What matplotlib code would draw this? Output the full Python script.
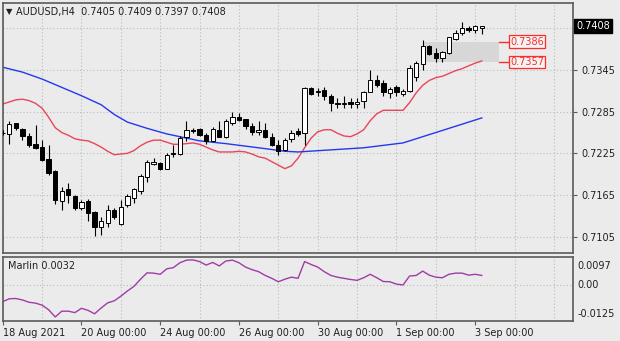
import matplotlib
matplotlib.use("Agg")
import matplotlib.pyplot as plt
import matplotlib.transforms as mtransforms
import numpy as np

# ---- data -------------------------------------------------------------
symbol = "AUDUSD,H4"
ohlc_header = "0.7405 0.7409 0.7397 0.7408"

# H4 candles, bar 0 = 18 Aug 2021 00:00
opens = [0.7255, 0.7253, 0.7268, 0.7260, 0.7250, 0.7238, 0.7234, 0.7217, 0.7199, 0.7157,
         0.7173, 0.7164, 0.7147, 0.7157, 0.7141, 0.7119, 0.7125, 0.7143, 0.7123, 0.7151,
         0.7160, 0.7171, 0.7191, 0.7210, 0.7211, 0.7203, 0.7225, 0.7224, 0.7248, 0.7258,
         0.7260, 0.7251, 0.7243, 0.7259, 0.7248, 0.7268, 0.7278, 0.7274, 0.7264, 0.7256,
         0.7259, 0.7248, 0.7237, 0.7230, 0.7246, 0.7257, 0.7254, 0.7319, 0.7313, 0.7316,
         0.7307, 0.7298, 0.7296, 0.7299, 0.7296, 0.7301, 0.7314, 0.7331, 0.7326, 0.7312,
         0.7320, 0.7310, 0.7315, 0.7335, 0.7353, 0.7379, 0.7369, 0.7362, 0.7369, 0.7390,
         0.7398, 0.7406, 0.7403, 0.7405]
highs = [0.7259, 0.7271, 0.7269, 0.7261, 0.7254, 0.7266, 0.7244, 0.7237, 0.7201, 0.7176,
         0.7183, 0.7165, 0.7158, 0.7159, 0.7142, 0.7134, 0.7151, 0.7146, 0.7158, 0.7166,
         0.7175, 0.7195, 0.7215, 0.7219, 0.7213, 0.7225, 0.7237, 0.7250, 0.7272, 0.7261,
         0.7262, 0.7255, 0.7263, 0.7271, 0.7274, 0.7284, 0.7283, 0.7275, 0.7269, 0.7271,
         0.7268, 0.7254, 0.7244, 0.7247, 0.7259, 0.7262, 0.7320, 0.7320, 0.7319, 0.7321,
         0.7310, 0.7304, 0.7307, 0.7304, 0.7305, 0.7315, 0.7345, 0.7338, 0.7331, 0.7321,
         0.7324, 0.7318, 0.7352, 0.7358, 0.7388, 0.7381, 0.7376, 0.7372, 0.7393, 0.7403,
         0.7414, 0.7409, 0.7410, 0.7409]
lows = [0.7251, 0.7239, 0.7259, 0.7244, 0.7234, 0.7231, 0.7214, 0.7194, 0.7152, 0.7144,
        0.7153, 0.7144, 0.7143, 0.7127, 0.7106, 0.7107, 0.7119, 0.7131, 0.7122, 0.7148,
        0.7153, 0.7167, 0.7184, 0.7208, 0.7201, 0.7202, 0.7220, 0.7223, 0.7243, 0.7254,
        0.7250, 0.7239, 0.7242, 0.7248, 0.7247, 0.7266, 0.7272, 0.7260, 0.7251, 0.7252,
        0.7247, 0.7235, 0.7223, 0.7228, 0.7242, 0.7250, 0.7237, 0.7309, 0.7308, 0.7302,
        0.7286, 0.7290, 0.7290, 0.7291, 0.7290, 0.7290, 0.7313, 0.7321, 0.7307, 0.7304,
        0.7307, 0.7308, 0.7314, 0.7329, 0.7345, 0.7367, 0.7357, 0.7357, 0.7368, 0.7388,
        0.7395, 0.7400, 0.7398, 0.7397]
closes = [0.7254, 0.7267, 0.7261, 0.7250, 0.7237, 0.7233, 0.7215, 0.7196, 0.7158, 0.7171,
          0.7165, 0.7147, 0.7155, 0.7139, 0.7119, 0.7127, 0.7143, 0.7134, 0.7148, 0.7163,
          0.7173, 0.7192, 0.7212, 0.7212, 0.7202, 0.7223, 0.7224, 0.7247, 0.7258, 0.7257,
          0.7252, 0.7243, 0.7260, 0.7249, 0.7271, 0.7278, 0.7273, 0.7264, 0.7256, 0.7258,
          0.7249, 0.7237, 0.7229, 0.7244, 0.7255, 0.7253, 0.7319, 0.7311, 0.7315, 0.7307,
          0.7297, 0.7296, 0.7297, 0.7296, 0.7299, 0.7313, 0.7331, 0.7323, 0.7314, 0.7318,
          0.7313, 0.7315, 0.7348, 0.7355, 0.7379, 0.7368, 0.7363, 0.7371, 0.7392, 0.7399,
          0.7405, 0.7402, 0.7408, 0.7408]

# fast moving average (red), one value per bar
red_ma = [0.7296, 0.7299, 0.7302, 0.7303, 0.7301, 0.7297, 0.7290, 0.7277, 0.7262, 0.7255,
          0.7251, 0.7246, 0.7244, 0.7243, 0.7239, 0.7234, 0.7228, 0.7223, 0.7224, 0.7225,
          0.7229, 0.7236, 0.7241, 0.7244, 0.7244, 0.7241, 0.7238, 0.7238, 0.7239, 0.7240,
          0.7238, 0.7234, 0.7230, 0.7227, 0.7227, 0.7227, 0.7228, 0.7227, 0.7224, 0.7220,
          0.7218, 0.7213, 0.7208, 0.7203, 0.7207, 0.7218, 0.7233, 0.7247, 0.7256, 0.7259,
          0.7259, 0.7254, 0.7250, 0.7249, 0.7253, 0.7259, 0.7272, 0.7282, 0.7287, 0.7287,
          0.7287, 0.7287, 0.7298, 0.7312, 0.7323, 0.7330, 0.7334, 0.7336, 0.7340, 0.7344,
          0.7347, 0.7351, 0.7355, 0.7358]
# slow moving average (blue), sampled bars
blue_ma_bars = [0, 3, 6, 9, 12, 15, 17, 19, 22, 25, 28, 30, 34, 39, 43, 45, 50, 55, 61, 66, 69, 73]
blue_ma = [0.7349, 0.7342, 0.7332, 0.7320, 0.7308, 0.7295, 0.7281, 0.7270, 0.7261, 0.7253,
           0.7247, 0.7243, 0.7239, 0.7233, 0.7228, 0.7227, 0.7230, 0.7233, 0.7240, 0.7255,
           0.7264, 0.7276]

# Marlin oscillator, one value per bar
marlin = [-0.0059, -0.0049, -0.0048, -0.0053, -0.0061, -0.0064, -0.0071, -0.0087, -0.0112, -0.0092,
          -0.0092, -0.0097, -0.0082, -0.0089, -0.0101, -0.0081, -0.0063, -0.0056, -0.0040, -0.0022,
          -0.0006, 0.0019, 0.0041, 0.0040, 0.0036, 0.0055, 0.0059, 0.0076, 0.0085, 0.0086,
          0.0080, 0.0068, 0.0077, 0.0065, 0.0082, 0.0085, 0.0076, 0.0061, 0.0052, 0.0045,
          0.0032, 0.0022, 0.0010, 0.0019, 0.0026, 0.0022, 0.0080, 0.0070, 0.0061, 0.0045,
          0.0032, 0.0026, 0.0022, 0.0018, 0.0015, 0.0024, 0.0036, 0.0024, 0.0011, 0.0010,
          0.0002, -0.0001, 0.0030, 0.0032, 0.0047, 0.0033, 0.0026, 0.0024, 0.0036, 0.0040,
          0.0040, 0.0033, 0.0036, 0.0032]

# support / resistance zone drawn as a shaded box
zone_top, zone_bottom = 0.7386, 0.7357
zone_start_bar, zone_end_bar = 64.1, 75.65

price_ticks = [0.7105, 0.7165, 0.7225, 0.7285, 0.7345, 0.7405]
osc_max, osc_zero, osc_min = 0.0097, 0.0, -0.0125
time_tick_bars = [0, 12, 24, 36, 48, 60, 72]
time_tick_labels = ["18 Aug 2021", "20 Aug 00:00", "24 Aug 00:00", "26 Aug 00:00",
                    "30 Aug 00:00", "1 Sep 00:00", "3 Sep 00:00"]

# ---- style ------------------------------------------------------------
BG = "#ebebeb"
FRAME = "#5a5a5a"
GRID = "#bcbcbc"
FS = 7
plt.rcParams["font.family"] = ["DejaVu Sans"]

W, H = 620, 341
fig = plt.figure(figsize=(W / 100, H / 100), dpi=100, facecolor=BG)


def fx(px):
    return px / W


def fy(py):
    return 1 - py / H


ax = fig.add_axes([fx(2.5), fy(253), fx(573) - fx(2.5), fy(3) - fy(253)], facecolor=BG)
ax2 = fig.add_axes([fx(2.5), fy(320.7), fx(573) - fx(2.5), fy(256.7) - fy(320.7)], facecolor=BG)

XMIN, XMAX = -0.03, 86.9
for a in (ax, ax2):
    a.set_xlim(XMIN, XMAX)
    for s in a.spines.values():
        s.set_color(FRAME)
        s.set_linewidth(1.2)
    a.set_xticks(np.arange(0, 87, 6), minor=True)
    a.grid(axis="x", which="minor", color=GRID, linestyle=(0, (1, 2)), linewidth=0.8)
    a.set_axisbelow(True)

# ---- price panel --------------------------------------------------------
ax.set_ylim(0.70815, 0.74415)
ax.set_xticks([])
ax.tick_params(axis="x", which="both", length=0, labelbottom=False)
ax.yaxis.tick_right()
ax.set_yticks(price_ticks)
ax.set_yticklabels([f"{v:.4f}" for v in price_ticks[:-1]] + [""])
ax.tick_params(axis="y", length=3, width=0.8, color=FRAME, pad=3, labelsize=FS,
               labelcolor="#202020")
ax.grid(axis="y", color=GRID, linestyle=(0, (1, 2)), linewidth=0.8)

ax.add_patch(plt.Rectangle((zone_start_bar, zone_bottom), zone_end_bar - zone_start_bar,
                           zone_top - zone_bottom, facecolor="#d7d7d7", edgecolor="none",
                           zorder=1))

bars = np.arange(len(closes))
o = np.array(opens)
c = np.array(closes)
ax.vlines(bars, lows, highs, color="black", linewidth=0.8, zorder=3)
up = c >= o
ax.bar(bars[up], (c - o)[up], bottom=o[up], width=0.66, facecolor="white",
       edgecolor="black", linewidth=0.7, zorder=4)
ax.bar(bars[~up], (o - c)[~up], bottom=c[~up], width=0.66, facecolor="black",
       edgecolor="black", linewidth=0.7, zorder=4)

ax.plot(bars, red_ma, color="#e8465a", linewidth=1.0, zorder=2)
ax.plot(blue_ma_bars, blue_ma, color="#2438f0", linewidth=1.0, zorder=2)

# zone price tags
for lvl in (zone_top, zone_bottom):
    ax.plot([zone_end_bar, 77.2], [lvl, lvl], color="#ff2a2a", linewidth=1.0, zorder=5)
    ax.text(77.35, lvl, f"{lvl:.4f}", fontsize=FS, color="#ff2a2a", va="center", ha="left",
            zorder=6, bbox=dict(boxstyle="square,pad=0.12", facecolor="#f3f3f3",
                                edgecolor="#ff2a2a", linewidth=0.9))

# last price tag on the axis
last_price = closes[-1]
trans = mtransforms.blended_transform_factory(ax.transAxes, ax.transData)
ax.text(1.006, last_price, f"{last_price:.4f}", transform=trans, fontsize=FS, color="white",
        va="center", ha="left", clip_on=False,
        bbox=dict(boxstyle="square,pad=0.2", facecolor="black", edgecolor="black"))

fig.text(fx(6), fy(12), "\u25BC", fontsize=6, color="#202020", va="center", ha="left")
fig.text(fx(16), fy(12), f"{symbol}  {ohlc_header}", fontsize=FS, color="#202020",
         va="center", ha="left")

# ---- oscillator panel ---------------------------------------------------
ax2.set_ylim(osc_min, osc_max)
ax2.set_yticks([osc_zero])
ax2.tick_params(axis="y", length=0, labelleft=False, labelright=False)
ax2.grid(axis="y", color=GRID, linestyle=(0, (1, 2)), linewidth=0.8)
ax2.plot(bars, marlin, color="#a03ca8", linewidth=1.0)

ax2.set_xticks(time_tick_bars)
ax2.set_xticklabels(time_tick_labels, ha="left")
ax2.tick_params(axis="x", which="major", length=3, width=0.8, color=FRAME, pad=2,
                labelsize=FS, labelcolor="#202020")
ax2.tick_params(axis="x", which="minor", length=0)
for lbl in ax2.get_xticklabels():
    lbl.set_horizontalalignment("left")

trans2 = mtransforms.blended_transform_factory(ax2.transAxes, ax2.transAxes)
ax2.text(1.008, 0.86, f"{osc_max:.4f}", transform=trans2, fontsize=FS, color="#202020",
         va="center", ha="left")
ax2.text(1.008, 0.55, f"{osc_zero:.2f}", transform=trans2, fontsize=FS, color="#202020",
         va="center", ha="left")
ax2.text(1.008, 0.10, f"{osc_min:.4f}", transform=trans2, fontsize=FS, color="#202020",
         va="center", ha="left")
ax2.text(fx(6) / (fx(573) - fx(2.5)), 0.86, f"Marlin {marlin[-1]:.4f}", transform=ax2.transAxes,
         fontsize=FS, color="#202020", va="center", ha="left")

fig.savefig("out.png", dpi=100, facecolor=BG)
